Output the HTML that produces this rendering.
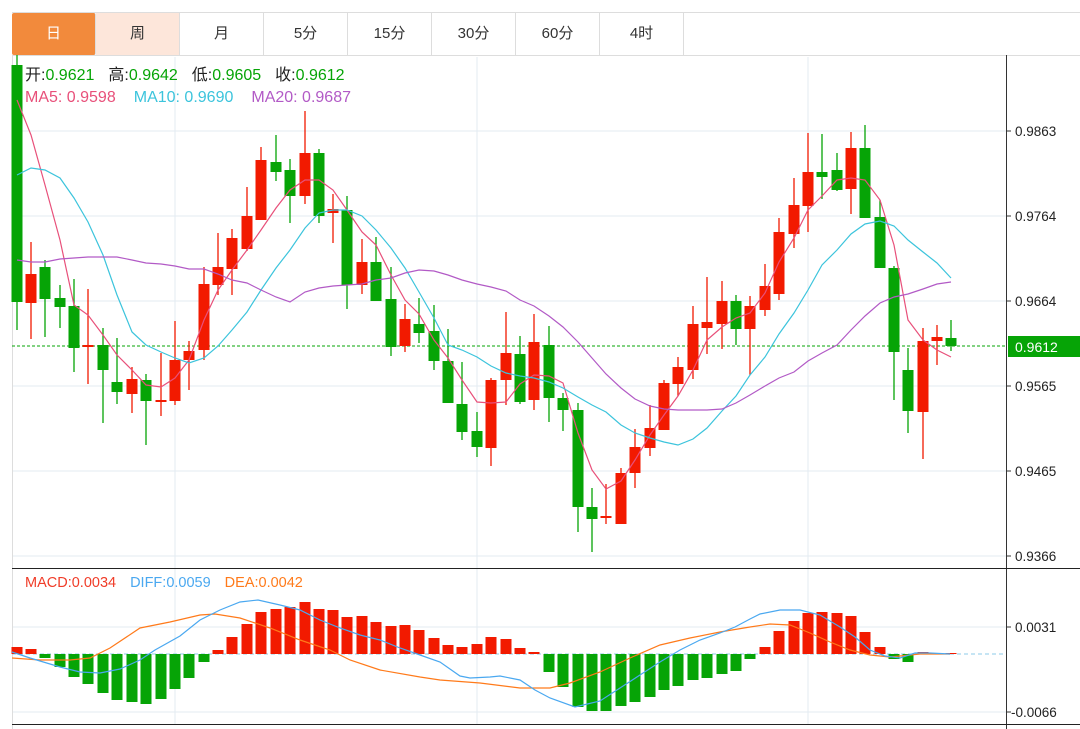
<!DOCTYPE html>
<html><head><meta charset="utf-8"><style>
body{margin:0;background:#fff;width:1080px;height:729px;overflow:hidden;font-family:"Liberation Sans","Noto Sans CJK SC",sans-serif}
.tabs{position:absolute;left:12px;top:12px;height:42px;display:flex;border-top:1px solid #ddd;border-bottom:1px solid #ddd;width:1068px}
.tabs div{width:83px;border-right:1px solid #ddd;text-align:center;line-height:42px;font-size:15px;color:#333}
.tabs .a{background:#f28a3c;color:#fff;border-radius:2px}
.tabs .b{background:#fde6da}
svg{position:absolute;left:0;top:0}
</style></head><body>
<div class="tabs"><div class="a">日</div><div class="b">周</div><div>月</div><div>5分</div><div>15分</div><div>30分</div><div>60分</div><div>4时</div></div>
<svg id="s" width="1080" height="729" xmlns="http://www.w3.org/2000/svg" font-family="Liberation Sans, Noto Sans CJK SC, sans-serif"></svg>
<script>
var C=[[17,65,302,55,330,'g'],[31,274,303,242,339,'r'],[45,267,299,260,337,'g'],[60,298,307,285,328,'g'],[74,306,348,279,372,'g'],[88,345,347,289,384,'r'],[103,345,370,328,423,'g'],[117,382,392,338,404,'g'],[132,379,394,367,413,'r'],[146,380,401,374,445,'g'],[161,400,402,353,416,'r'],[175,360,401,321,405,'r'],[189,351,360,341,390,'r'],[204,284,350,267,360,'r'],[218,267,285,233,295,'r'],[232,238,269,229,295,'r'],[247,216,249,187,251,'r'],[261,160,220,147,220,'r'],[276,162,172,135,181,'g'],[290,170,196,159,223,'g'],[305,153,196,111,204,'r'],[319,153,216,149,223,'g'],[333,209,213,194,243,'r'],[347,210,285,196,309,'g'],[362,262,285,239,294,'r'],[376,262,301,237,301,'g'],[391,299,347,267,356,'g'],[405,319,346,304,352,'r'],[419,324,333,298,343,'g'],[434,331,361,305,370,'g'],[448,361,403,329,403,'g'],[462,404,432,362,440,'g'],[477,431,447,412,457,'g'],[491,380,448,378,466,'r'],[506,353,380,312,405,'r'],[520,354,402,336,404,'g'],[534,342,400,314,410,'r'],[549,345,398,326,422,'g'],[563,398,410,393,431,'g'],[578,410,507,403,532,'g'],[592,507,519,488,552,'g'],[606,516,518,484,524,'r'],[621,473,524,468,524,'r'],[635,447,473,429,488,'r'],[650,428,448,405,456,'r'],[664,383,430,380,430,'r'],[678,367,384,357,396,'r'],[693,324,370,306,379,'r'],[707,322,328,277,354,'r'],[722,301,324,281,349,'r'],[736,301,329,295,345,'g'],[750,306,329,296,375,'r'],[765,286,310,264,316,'r'],[779,232,294,218,300,'r'],[794,205,234,178,248,'r'],[808,172,206,133,232,'r'],[822,172,177,134,199,'g'],[837,170,190,153,191,'g'],[851,148,189,132,214,'r'],[865,148,218,125,218,'g'],[880,217,268,200,268,'g'],[894,268,352,266,400,'g'],[908,370,411,348,433,'g'],[923,341,412,328,459,'r'],[937,337,341,325,365,'r'],[951,338,346,320,351,'g']];
var M=[647,649,658,667,677,684,693,700,702,704,699,689,678,662,650,637,624,612,609,607,602,609,610,617,616,622,626,625,630,638,645,647,644,637,639,648,652,672,687,707,711,711,706,702,697,690,686,680,678,674,671,659,647,631,621,613,612,613,616,632,647,659,662,652,653,653];
var xs=C.map(c=>c[0]);
var ma5=[100,135,185,240,305,315,335,355,370,385,387,378,360,320,290,270,250,230,208,190,180,180,190,210,232,245,275,300,314,340,358,380,402,403,402,384,375,376,383,433,470,489,481,460,435,415,396,370,340,327,318,313,293,262,238,210,196,180,178,180,200,245,320,340,350,357];
var ma10=[175,168,170,178,198,222,255,295,332,345,352,358,363,358,346,330,312,290,268,250,228,213,210,210,216,230,248,268,292,318,345,350,357,366,373,376,378,382,388,397,405,412,425,433,438,442,445,439,428,411,396,375,357,334,313,290,265,250,234,224,221,226,240,252,263,278];
var ma20=[260,262,262,259,258,257,257,257,260,263,264,266,269,269,274,280,283,290,297,302,292,288,286,285,284,280,278,273,270,271,275,280,284,287,291,300,306,316,327,342,358,374,388,399,406,409,410,410,410,409,403,395,386,378,372,361,353,345,330,316,303,297,294,289,284,282];
var dif=[[12,652],[30,658],[60,667],[80,672],[100,673],[120,669],[140,660],[155,650],[180,636],[200,620],[220,610],[240,602],[258,600],[280,605],[300,610],[320,620],[340,628],[360,635],[380,640],[400,648],[420,655],[440,662],[460,676],[470,678],[490,677],[500,676],[520,680],[535,690],[550,698],[575,707],[600,701],[620,688],[640,675],[660,662],[680,650],[700,640],[720,633],[735,627],[750,619],[760,614],[780,610],[800,610],[820,615],[840,627],[855,637],[870,650],[885,656],[900,658],[915,653],[930,653],[950,654]];
var dea=[[12,658],[40,660],[70,660],[90,658],[110,648],[140,628],[170,622],[200,615],[215,614],[240,618],[270,628],[300,640],[330,650],[350,660],[380,670],[420,677],[440,680],[480,683],[520,688],[550,688],[570,683],[600,672],[630,658],[660,645],[690,638],[720,632],[750,627],[770,624],[790,625],[810,633],[830,642],[850,650],[870,655],[890,657],[920,654],[950,654]];
var RED='#f21a00',GRN='#06a406',h='';
[131,216,301,386,471,556,627,712].forEach(y=>h+=`<line x1="12" x2="1006" y1="${y}" y2="${y}" stroke="#e3ebf2"/>`);
[175,477,808].forEach(x=>h+=`<line x1="${x}" x2="${x}" y1="57" y2="724" stroke="#e3ebf2"/>`);
h+=`<line x1="12.5" x2="12.5" y1="55" y2="729" stroke="#ddd"/>`;
h+=`<line x1="1006.5" x2="1006.5" y1="55" y2="729" stroke="#333"/>`;
h+=`<line x1="12" x2="1080" y1="568.5" y2="568.5" stroke="#222"/><line x1="12" x2="1080" y1="724.5" y2="724.5" stroke="#222"/>`;
[[131,'0.9863'],[216,'0.9764'],[301,'0.9664'],[386,'0.9565'],[471,'0.9465'],[556,'0.9366'],[627,'0.0031'],[712,'-0.0066']].forEach(a=>{h+=`<line x1="1006" x2="1011" y1="${a[0]}" y2="${a[0]}" stroke="#333"/><text x="${a[1][0]=='-'?1011:1015}" y="${a[0]+5}" font-size="13.5" fill="#222">${a[1]}</text>`});
h+=`<line x1="12" x2="1006" y1="346" y2="346" stroke="${GRN}" stroke-dasharray="3,2"/>`;
h+=`<line x1="12" x2="1006" y1="654" y2="654" stroke="#8ccbea" stroke-dasharray="4,3"/>`;
C.forEach(c=>{var col=c[5]=='r'?RED:GRN;var t=Math.min(c[1],c[2]),b=Math.max(c[1],c[2]);if(b-t<2)b=t+2;
h+=`<line x1="${c[0]}" x2="${c[0]}" y1="${c[3]}" y2="${c[4]}" stroke="${col}" stroke-width="1.3"/><rect x="${c[0]-5.5}" y="${t}" width="11" height="${b-t}" fill="${col}"/>`});
function pl(arr,col){return `<polyline fill="none" stroke="${col}" stroke-width="1.2" points="${arr.map(p=>p.join(',')).join(' ')}"/>`}
h+=pl(ma5.map((y,i)=>[xs[i],y]),'#e8507a')+pl(ma10.map((y,i)=>[xs[i],y]),'#3cc4dc')+pl(ma20.map((y,i)=>[xs[i],y]),'#b25ac6');
M.forEach((y,i)=>{var x=xs[i],col=y<654?RED:GRN;var t=Math.min(y,654),hh=Math.max(Math.abs(y-654),1);h+=`<rect x="${x-5.5}" y="${t}" width="11" height="${hh}" fill="${col}"/>`});
h+=pl(dea,'#ff7a1a')+pl(dif,'#4aa8f0');
h+=`<rect x="1008" y="336" width="72" height="21" fill="${GRN}"/><text x="1015" y="352" font-size="14" fill="#fff">0.9612</text>`;
h+=`<text y="80" font-size="16"><tspan x="25" fill="#222">开:</tspan><tspan fill="${GRN}">0.9621</tspan><tspan dx="14" fill="#222">高:</tspan><tspan fill="${GRN}">0.9642</tspan><tspan dx="14" fill="#222">低:</tspan><tspan fill="${GRN}">0.9605</tspan><tspan dx="14" fill="#222">收:</tspan><tspan fill="${GRN}">0.9612</tspan></text>`;
h+=`<text y="102" font-size="16"><tspan x="25" fill="#e8507a">MA5: 0.9598</tspan><tspan dx="18" fill="#3cc4dc">MA10: 0.9690</tspan><tspan dx="18" fill="#b25ac6">MA20: 0.9687</tspan></text>`;
h+=`<text y="587" font-size="14.5"><tspan x="25" fill="#f03c28">MACD:0.0034</tspan><tspan dx="14" fill="#4aa8f0">DIFF:0.0059</tspan><tspan dx="14" fill="#ff7a1a">DEA:0.0042</tspan></text>`;
document.getElementById('s').innerHTML=h;
</script>
</body></html>
